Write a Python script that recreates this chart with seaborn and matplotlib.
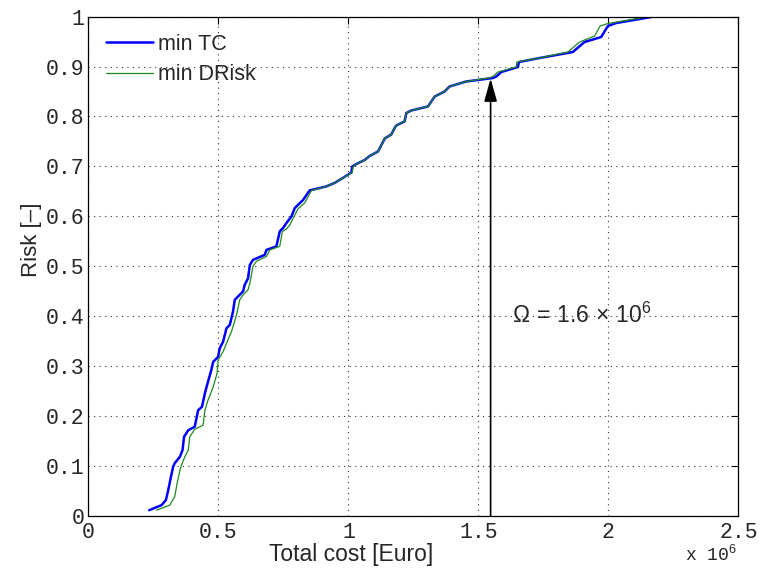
import pandas as pd
import matplotlib
matplotlib.use("Agg")
import matplotlib.pyplot as plt
import seaborn as sns

# Cumulative risk vs total cost (cost in units of 10^6 Euro)
tc_cost = [0.234, 0.281, 0.298, 0.307, 0.316, 0.326, 0.332, 0.352, 0.362, 0.368,
           0.384, 0.409, 0.422, 0.437, 0.448, 0.460, 0.473, 0.480, 0.499, 0.505,
           0.518, 0.531, 0.544, 0.556, 0.563, 0.595, 0.601, 0.614, 0.621, 0.633,
           0.678, 0.685, 0.723, 0.736, 0.749, 0.762, 0.781, 0.794, 0.806, 0.826,
           0.839, 0.851, 0.915, 0.947, 0.979, 1.012, 1.015, 1.031, 1.063, 1.082,
           1.114, 1.127, 1.140, 1.165, 1.178, 1.184, 1.216, 1.223, 1.242, 1.306,
           1.332, 1.370, 1.389, 1.453, 1.556, 1.569, 1.588, 1.652, 1.656, 1.735,
           1.863, 1.908, 1.972, 1.998, 2.030, 2.164]
tc_risk = [0.012, 0.022, 0.032, 0.052, 0.075, 0.099, 0.106, 0.119, 0.132, 0.159,
           0.172, 0.179, 0.212, 0.219, 0.246, 0.269, 0.293, 0.309, 0.319, 0.336,
           0.349, 0.376, 0.383, 0.409, 0.433, 0.450, 0.463, 0.476, 0.503, 0.513,
           0.523, 0.533, 0.540, 0.570, 0.577, 0.587, 0.600, 0.617, 0.623, 0.633,
           0.643, 0.652, 0.660, 0.667, 0.677, 0.688, 0.700, 0.705, 0.713, 0.721,
           0.730, 0.743, 0.756, 0.764, 0.777, 0.782, 0.790, 0.807, 0.812, 0.820,
           0.840, 0.850, 0.860, 0.870, 0.877, 0.880, 0.889, 0.899, 0.909, 0.917,
           0.929, 0.949, 0.959, 0.981, 0.987, 0.999]

dr_cost = [0.262, 0.313, 0.332, 0.341, 0.352, 0.358, 0.371, 0.384, 0.390, 0.409,
           0.441, 0.448, 0.460, 0.480, 0.495, 0.499, 0.518, 0.531, 0.550, 0.570,
           0.582, 0.595, 0.614, 0.621, 0.633, 0.646, 0.685, 0.698, 0.736, 0.746,
           0.762, 0.775, 0.794, 0.806, 0.832, 0.858, 0.915, 0.947, 0.979, 1.015,
           1.018, 1.031, 1.063, 1.082, 1.114, 1.127, 1.140, 1.165, 1.178, 1.184,
           1.216, 1.223, 1.242, 1.306, 1.332, 1.370, 1.389, 1.453, 1.540, 1.556,
           1.575, 1.646, 1.648, 1.735, 1.844, 1.889, 1.947, 1.968, 1.998, 2.145]
dr_risk = [0.012, 0.022, 0.039, 0.065, 0.092, 0.102, 0.119, 0.132, 0.159, 0.174,
           0.182, 0.212, 0.232, 0.259, 0.286, 0.313, 0.329, 0.346, 0.369, 0.403,
           0.433, 0.443, 0.453, 0.466, 0.500, 0.510, 0.520, 0.533, 0.540, 0.570,
           0.575, 0.583, 0.603, 0.615, 0.627, 0.652, 0.660, 0.667, 0.677, 0.688,
           0.700, 0.705, 0.713, 0.721, 0.730, 0.743, 0.756, 0.764, 0.777, 0.782,
           0.790, 0.807, 0.812, 0.820, 0.840, 0.850, 0.860, 0.870, 0.877, 0.880,
           0.889, 0.899, 0.909, 0.917, 0.929, 0.949, 0.961, 0.981, 0.986, 0.999]

omega = 1.547  # arrow position
omega_risk = 0.876
x_ticks = [0, 0.5, 1, 1.5, 2, 2.5]
y_ticks = [0, 0.1, 0.2, 0.3, 0.4, 0.5, 0.6, 0.7, 0.8, 0.9, 1]

sns.set_theme(style="white")
plt.rcParams['font.family'] = ['Liberation Sans', 'DejaVu Sans']
plt.rcParams['mathtext.fontset'] = 'custom'
plt.rcParams['mathtext.rm'] = 'Liberation Sans'
plt.rcParams['mathtext.it'] = 'Liberation Sans:italic'

fig = plt.figure(figsize=(7.62, 5.71), dpi=100)
ax = fig.add_axes([0.116, 0.096, 0.853, 0.875])

sns.lineplot(x=tc_cost, y=tc_risk, ax=ax, color='#0000ff', linewidth=1.8,
             sort=False, estimator=None, label='min TC')
sns.lineplot(x=dr_cost, y=dr_risk, ax=ax, color='#1f8a1f', linewidth=0.9,
             sort=False, estimator=None, label='min DRisk')

ax.set_xlim(0, 2.5)
ax.set_ylim(0, 1)
ax.set_xticks(x_ticks)
ax.set_yticks(y_ticks)
ax.set_xticklabels([f"{t:g}" for t in x_ticks], family='Liberation Mono', fontsize=15.5)
ax.set_yticklabels([f"{t:g}" for t in y_ticks], family='Liberation Mono', fontsize=15.5)
ax.tick_params(direction='in', top=True, right=True, length=5, width=0.8,
               color='black', pad=3)
ax.tick_params(axis='x', pad=4)
ax.grid(True, linestyle=(0, (1, 4)), color='#333333', linewidth=0.8)
for s in ax.spines.values():
    s.set_color('black')
    s.set_linewidth(0.9)

ax.set_xlabel('Total cost [Euro]', fontsize=16.5)
ax.xaxis.set_label_coords(0.404, -0.054, transform=ax.transAxes)
ax.xaxis.label.set_va('top')
ax.set_ylabel('Risk [–]', fontsize=16)
ax.yaxis.set_label_coords(-0.071, 0.553, transform=ax.transAxes)
ax.text(0.998, -0.09, r'x 10$^{6}$', transform=ax.transAxes, ha='right',
        va='baseline', family='Liberation Mono', fontsize=13)

ax.annotate('', xy=(omega, omega_risk), xytext=(omega, 0),
            arrowprops=dict(arrowstyle='-|>,head_length=1.0,head_width=0.28',
                            color='black', lw=1.2, shrinkA=0, shrinkB=0,
                            mutation_scale=14))
ax.text(1.63, 0.387, r'$\Omega\,=\,1.6\,\times\,10^{6}$', fontsize=16.5,
        ha='left', va='baseline')

leg = ax.legend(loc='upper left', frameon=False, fontsize=15.5, handlelength=2.2,
                handletextpad=0.25, labelspacing=0.45, borderaxespad=0.3,
                borderpad=0.5)

fig.savefig('out.png', dpi=100)
